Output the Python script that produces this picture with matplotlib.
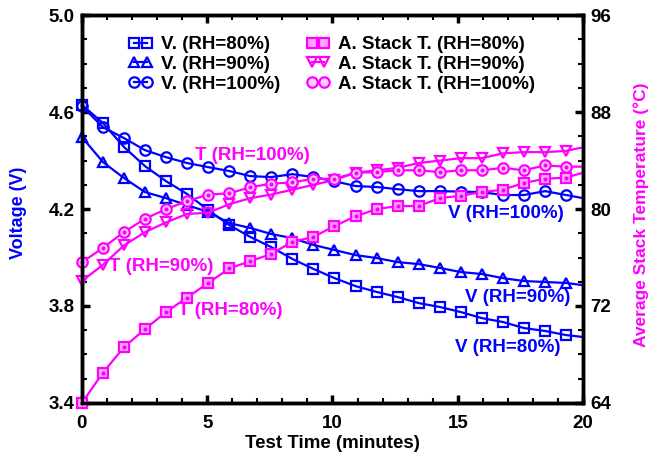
import matplotlib
matplotlib.use("Agg")
import matplotlib.pyplot as plt
from matplotlib.ticker import MultipleLocator, FixedLocator

plt.rcParams['font.family'] = ['Liberation Sans', 'DejaVu Sans']

# sampling instants (minutes); the last sample closes the curve at 20 min
t = [0, 0.84, 1.68, 2.52, 3.36, 4.2, 5.04, 5.88, 6.72, 7.56, 8.4, 9.24,
     10.08, 10.92, 11.76, 12.6, 13.44, 14.28, 15.12, 15.96, 16.8, 17.64,
     18.48, 19.32, 20.0]

# stack voltage (V)
v80 = [4.63, 4.555, 4.456, 4.377, 4.315, 4.262, 4.196, 4.134, 4.085, 4.043,
       3.994, 3.953, 3.915, 3.882, 3.858, 3.837, 3.812, 3.796, 3.775, 3.750,
       3.734, 3.709, 3.697, 3.680, 3.672]
v90 = [4.497, 4.394, 4.328, 4.270, 4.245, 4.216, 4.188, 4.142, 4.122, 4.097,
       4.080, 4.052, 4.031, 4.010, 3.998, 3.981, 3.973, 3.957, 3.940, 3.932,
       3.915, 3.903, 3.899, 3.895, 3.886]
v100 = [4.625, 4.538, 4.493, 4.443, 4.414, 4.390, 4.373, 4.357, 4.336, 4.332,
        4.344, 4.332, 4.315, 4.295, 4.291, 4.282, 4.274, 4.274, 4.272, 4.270,
        4.258, 4.258, 4.274, 4.258, 4.245]

# average stack temperature (degC)
T80 = [64.0, 66.5, 68.6, 70.1, 71.5, 72.7, 73.9, 75.1, 75.7, 76.3, 77.3, 77.7,
       78.6, 79.4, 80.0, 80.25, 80.25, 80.9, 81.1, 81.4, 81.6, 82.15, 82.5,
       82.6, 83.0]
T90 = [74.06, 75.4, 77.0, 78.1, 78.9, 79.6, 79.7, 80.4, 80.9, 81.2, 81.6,
       82.0, 82.4, 83.0, 83.2, 83.4, 83.8, 84.0, 84.2, 84.2, 84.6, 84.7, 84.7,
       84.8, 85.1]
T100 = [75.6, 76.8, 78.1, 79.2, 80.0, 80.65, 81.2, 81.3, 81.8, 82.1, 82.2,
        82.5, 82.5, 83.0, 83.05, 83.2, 83.2, 83.05, 83.2, 83.2, 83.4, 83.2,
        83.6, 83.5, 83.5]

v_ticks = [3.4, 3.8, 4.2, 4.6, 5.0]
T_ticks = [64, 72, 80, 88, 96]

blue = '#0000ff'
pink = '#ff00ff'
mk = list(range(len(t) - 1))  # no marker on the closing sample

fig = plt.figure(figsize=(6.5, 4.61), dpi=100)
ax = fig.add_axes([0.126, 0.126, 0.771, 0.841])
ax2 = ax.twinx()

style = dict(lw=1.6, ms=7.5, mew=1.6, markevery=mk, clip_on=False)
h1, = ax.plot(t, v80, '-s', color=blue, mfc='none', zorder=3, **style)
h2, = ax.plot(t, v90, '-^', color=blue, mfc='none', zorder=3, **style)
h3, = ax.plot(t, v100, '-o', color=blue, mfc='none', zorder=3, **style)
h4, = ax2.plot(t, T80, '-s', color=pink, mfc='#ffa8ff', **style)
h5, = ax2.plot(t, T90, '-v', color=pink, mfc='none', **style)
h6, = ax2.plot(t, T100, '-o', color=pink, mfc='#ffd0ff', **style)
# small centre dots on the pink square/circle markers
for T in (T80, T100):
    ax2.plot(t[:-1], T[:-1], 'o', color=pink, ms=2, clip_on=False)

ax.set_xlim(0, 20)
ax.set_ylim(3.4, 5.0)
ax2.set_ylim(64, 96)
ax.xaxis.set_major_locator(MultipleLocator(5))
ax.xaxis.set_minor_locator(MultipleLocator(1))
ax.yaxis.set_major_locator(FixedLocator(v_ticks))
ax.yaxis.set_minor_locator(MultipleLocator(0.1))
ax2.yaxis.set_major_locator(FixedLocator(T_ticks))
ax2.yaxis.set_minor_locator(MultipleLocator(2))
ax.yaxis.set_major_formatter(plt.FuncFormatter(lambda v, p: f'{v:.1f}'))

for a in (ax, ax2):
    for s in a.spines.values():
        s.set_linewidth(2.5)
    a.tick_params(which='major', direction='in', length=6, width=2.5,
                  labelsize=13.5, pad=5)
    a.tick_params(which='minor', direction='in', length=3.5, width=1.5)
ax.tick_params(which='both', top=True, right=False)
ax.tick_params(axis='x', which='major', pad=9)
for lab in ax.get_xticklabels() + ax.get_yticklabels() + ax2.get_yticklabels():
    lab.set_fontweight('bold')

ax.set_xlabel('Test Time (minutes)', fontsize=13.5, fontweight='bold',
              labelpad=2)
ax.set_ylabel('Voltage (V)', fontsize=13, fontweight='bold', color=blue)
ax.yaxis.set_label_coords(-0.11, 0.49)
ax2.set_ylabel('Average Stack Temperature (°C)', fontsize=12.5,
               fontweight='bold', color=pink)
ax2.yaxis.set_label_coords(1.1, 0.485)

txt = dict(fontsize=13.5, fontweight='bold', ha='left', va='center')
ax.text(4.5, 4.423, 'T (RH=100%)', color=pink, **txt)
ax.text(1.1, 3.965, 'T (RH=90%)', color=pink, **txt)
ax.text(3.85, 3.78, 'T (RH=80%)', color=pink, **txt)
ax.text(14.6, 4.183, 'V (RH=100%)', color=blue, **txt)
ax.text(15.3, 3.833, 'V (RH=90%)', color=blue, **txt)
ax.text(14.9, 3.627, 'V (RH=80%)', color=blue, **txt)

leg = ax2.legend([h1, h2, h3, h4, h5, h6],
                 ['V. (RH=80%)', 'V. (RH=90%)', 'V. (RH=100%)',
                  'A. Stack T. (RH=80%)', 'A. Stack T. (RH=90%)',
                  'A. Stack T. (RH=100%)'],
                 ncol=2, loc='upper left', bbox_to_anchor=(0.06, 0.99),
                 frameon=False, numpoints=2, handlelength=1.25,
                 handletextpad=0.45, columnspacing=1.4, labelspacing=0.15,
                 prop=dict(size=13.5, weight='bold'))

fig.savefig('out.png', dpi=100)
